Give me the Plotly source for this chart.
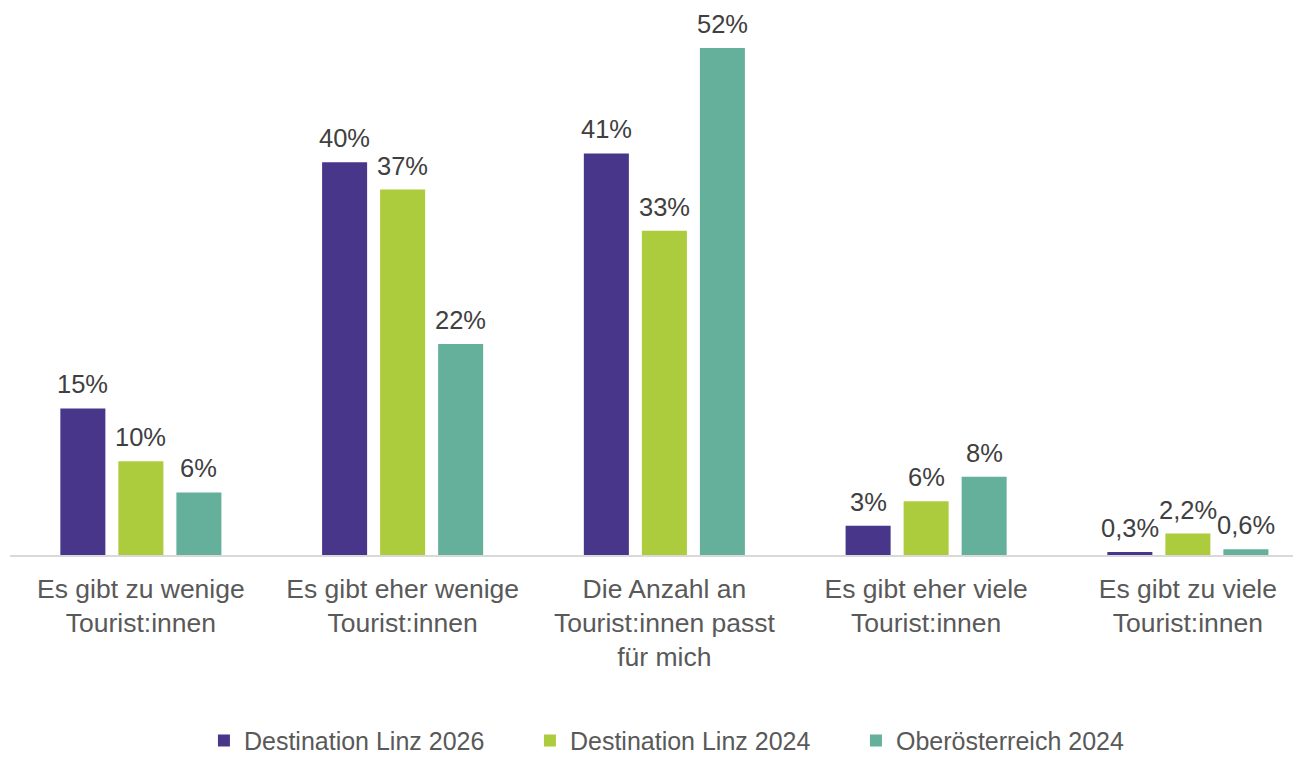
import plotly.graph_objects as go

categories = ["Es gibt zu wenige<br>Tourist:innen",
              "Es gibt eher wenige<br>Tourist:innen",
              "Die Anzahl an<br>Tourist:innen passt<br>für mich",
              "Es gibt eher viele<br>Tourist:innen",
              "Es gibt zu viele<br>Tourist:innen"]
series_names = ["Destination Linz 2026", "Destination Linz 2024", "Oberösterreich 2024"]
linz2026 = [15.0, 40.2, 41.1, 3.0, 0.3]
linz2024 = [9.6, 37.4, 33.2, 5.5, 2.2]
ooe2024 = [6.4, 21.6, 51.9, 8.0, 0.6]
labels2026 = ["15%", "40%", "41%", "3%", "0,3%"]
labels2024 = ["10%", "37%", "33%", "6%", "2,2%"]
labelsooe = ["6%", "22%", "52%", "8%", "0,6%"]
colors = ["#48368B", "#ADCC3D", "#65B09B"]

values = [linz2026, linz2024, ooe2024]
labels = [labels2026, labels2024, labelsooe]

FONT = "Liberation Sans, Arial"

fig = go.Figure()
for name, vals, col in zip(series_names, values, colors):
    fig.add_trace(go.Bar(x=list(range(len(categories))), y=vals, name=name,
                         marker=dict(color=col, line=dict(width=0))))

px_per_unit = 261.75
shifts = [-58, 0, 58]
for vals, labs, sh in zip(values, labels, shifts):
    for i, (v, t) in enumerate(zip(vals, labs)):
        fig.add_annotation(x=i, y=v, text=t, showarrow=False, xshift=sh,
                           yanchor="bottom", yshift=8,
                           font=dict(family=FONT, size=25.5, color="#404040"))

# page body has an 8px margin, so the figure is offset by 8px
W, H = 1293, 765
l, r, t, b = 2, 0, 12, 218
plot_w = W - l - r
plot_h = H - t - b
xmax = -0.5 + plot_w / px_per_unit
ymax = plot_h / 9.77

fig.update_layout(
    width=W, height=H,
    margin=dict(l=l, r=r, t=t, b=b),
    paper_bgcolor="white", plot_bgcolor="white",
    barmode="group", bargap=0.335, bargroupgap=0.224,
    font=dict(family=FONT, size=26, color="#595959"),
    xaxis=dict(range=[-0.5, xmax], tickmode="array",
               tickvals=list(range(len(categories))), ticktext=categories,
               showline=True, linecolor="#D9D9D9", linewidth=1.5,
               ticks="outside", ticklen=9, tickcolor="rgba(0,0,0,0)",
               showgrid=False, zeroline=False, automargin=False,
               tickfont=dict(size=26.5, color="#595959")),
    yaxis=dict(range=[0, ymax], visible=False, showgrid=False, zeroline=False,
               automargin=False),
    legend=dict(orientation="h", x=0.529, xanchor="center", y=-0.347, yanchor="middle",
                font=dict(size=25, color="#595959"), itemwidth=30,
                entrywidth=281, entrywidthmode="pixels",
                traceorder="normal"),
    showlegend=True,
)

fig.write_html("out.html")
